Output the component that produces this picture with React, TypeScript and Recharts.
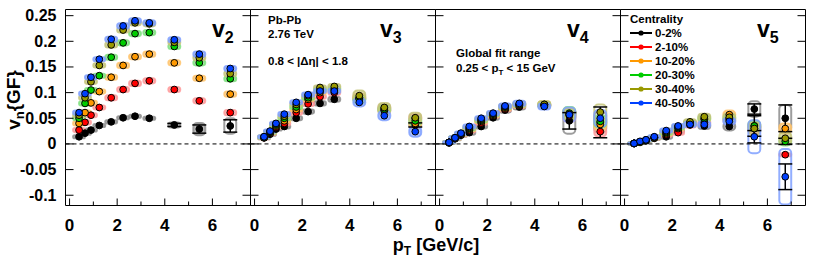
import React from "react";
import {
  ScatterChart,
  Scatter,
  XAxis,
  YAxis,
  ReferenceLine,
  ReferenceArea,
  ErrorBar,
} from "recharts";

// pT bin centres (GeV/c)
const ptBins = [0.4, 0.65, 0.9, 1.25, 1.75, 2.25, 2.75, 3.35, 4.4, 5.45, 6.75];

const centralities = ["0-2%", "2-10%", "10-20%", "20-30%", "30-40%", "40-50%"];
const colors = ["#000000", "#ff0000", "#ff9900", "#00cc00", "#999900", "#0040ff"];
const boxColors = ["#8c8c8c", "#ff9a9a", "#ffc36b", "#7fe07f", "#c4c47a", "#7fa0ff"];

const xTicks = [0, 1, 2, 3, 4, 5, 6, 7];
const yTicks = [-0.1, -0.05, 0, 0.05, 0.1, 0.15, 0.2, 0.25];

// v2{GF}, one row per centrality class
const v2Values = [
  [0.014, 0.021, 0.027, 0.036, 0.043, 0.051, 0.054, 0.05, 0.037, 0.029, 0.035],
  [0.027, 0.042, 0.056, 0.071, 0.09, 0.106, 0.118, 0.123, 0.106, 0.084, 0.061],
  [0.04, 0.061, 0.08, 0.102, 0.13, 0.153, 0.17, 0.175, 0.158, 0.128, 0.097],
  [0.05, 0.079, 0.105, 0.133, 0.169, 0.197, 0.215, 0.217, 0.19, 0.158, 0.127],
  [0.056, 0.09, 0.121, 0.153, 0.193, 0.222, 0.236, 0.234, 0.198, 0.168, 0.137],
  [0.061, 0.098, 0.13, 0.165, 0.204, 0.23, 0.24, 0.236, 0.203, 0.175, 0.147],
];
const v2Stat = [
  [0, 0, 0, 0, 0, 0, 0, 0, 0.003, 0.008, 0.012],
  [0, 0, 0, 0, 0, 0, 0, 0, 0, 0, 0],
  [0, 0, 0, 0, 0, 0, 0, 0, 0, 0, 0],
  [0, 0, 0, 0, 0, 0, 0, 0, 0, 0, 0],
  [0, 0, 0, 0, 0, 0, 0, 0, 0, 0, 0],
  [0, 0, 0, 0, 0, 0, 0, 0, 0, 0, 0],
];
const v2Sys = [
  [0.003, 0.003, 0.003, 0.003, 0.003, 0.003, 0.003, 0.003, 0.005, 0.012, 0.015],
  [0.004, 0.004, 0.004, 0.004, 0.005, 0.005, 0.005, 0.005, 0.005, 0.005, 0.005],
  [0.004, 0.004, 0.004, 0.004, 0.005, 0.005, 0.005, 0.005, 0.005, 0.005, 0.005],
  [0.004, 0.004, 0.004, 0.004, 0.005, 0.005, 0.005, 0.005, 0.005, 0.005, 0.005],
  [0.004, 0.004, 0.004, 0.004, 0.005, 0.005, 0.005, 0.005, 0.005, 0.005, 0.005],
  [0.004, 0.004, 0.004, 0.004, 0.005, 0.005, 0.005, 0.005, 0.005, 0.005, 0.005],
];

// v3{GF}
const v3Values = [
  [0.012, 0.019, 0.029, 0.034, 0.05, 0.063, 0.079, 0.087, 0.088, 0.066, 0.037],
  [0.012, 0.021, 0.033, 0.04, 0.061, 0.078, 0.092, 0.1, 0.09, 0.07, 0.05],
  [0.013, 0.022, 0.035, 0.045, 0.067, 0.087, 0.1, 0.105, 0.09, 0.065, 0.04],
  [0.013, 0.023, 0.037, 0.05, 0.072, 0.09, 0.106, 0.108, 0.087, 0.068, 0.045],
  [0.014, 0.024, 0.039, 0.054, 0.077, 0.094, 0.11, 0.112, 0.094, 0.071, 0.051],
  [0.014, 0.025, 0.04, 0.058, 0.081, 0.096, 0.103, 0.103, 0.081, 0.055, 0.024],
];
const v3Stat = [
  [0, 0, 0, 0, 0, 0, 0, 0, 0, 0, 0.004],
  [0, 0, 0, 0, 0, 0, 0, 0, 0, 0, 0],
  [0, 0, 0, 0, 0, 0, 0, 0, 0, 0, 0],
  [0, 0, 0, 0, 0, 0, 0, 0, 0, 0, 0],
  [0, 0, 0, 0, 0, 0, 0, 0, 0, 0, 0],
  [0, 0, 0, 0, 0, 0, 0, 0, 0, 0, 0],
];
const v3Sys = [
  [0.003, 0.003, 0.003, 0.004, 0.004, 0.004, 0.004, 0.005, 0.008, 0.008, 0.008],
  [0.003, 0.003, 0.003, 0.004, 0.004, 0.004, 0.004, 0.005, 0.008, 0.008, 0.009],
  [0.003, 0.003, 0.003, 0.004, 0.004, 0.004, 0.004, 0.005, 0.008, 0.008, 0.009],
  [0.003, 0.003, 0.003, 0.004, 0.004, 0.004, 0.004, 0.005, 0.008, 0.008, 0.009],
  [0.003, 0.003, 0.003, 0.004, 0.004, 0.004, 0.004, 0.005, 0.01, 0.009, 0.01],
  [0.003, 0.003, 0.003, 0.004, 0.004, 0.004, 0.004, 0.005, 0.008, 0.009, 0.01],
];

// v4{GF}
const v4Values = [
  [0.002, 0.01, 0.017, 0.022, 0.034, 0.051, 0.066, 0.072, 0.075, 0.045, 0.042],
  [0.003, 0.011, 0.018, 0.026, 0.041, 0.055, 0.068, 0.075, 0.076, 0.055, 0.024],
  [0.003, 0.011, 0.019, 0.028, 0.044, 0.056, 0.07, 0.076, 0.077, 0.058, 0.038],
  [0.003, 0.012, 0.02, 0.03, 0.046, 0.058, 0.072, 0.077, 0.076, 0.06, 0.044],
  [0.003, 0.012, 0.02, 0.032, 0.048, 0.059, 0.073, 0.078, 0.077, 0.058, 0.062],
  [0.003, 0.012, 0.021, 0.034, 0.05, 0.06, 0.074, 0.079, 0.073, 0.057, 0.05],
];
const v4Stat = [
  [0, 0, 0, 0, 0, 0, 0, 0, 0, 0.016, 0.03],
  [0, 0, 0, 0, 0, 0, 0, 0, 0, 0, 0],
  [0, 0, 0, 0, 0, 0, 0, 0, 0, 0, 0],
  [0, 0, 0, 0, 0, 0, 0, 0, 0, 0, 0],
  [0, 0, 0, 0, 0, 0, 0, 0, 0, 0, 0],
  [0, 0, 0, 0, 0, 0, 0, 0, 0, 0, 0],
];
const v4Sys = [
  [0.002, 0.003, 0.003, 0.004, 0.004, 0.004, 0.005, 0.005, 0.006, 0.025, 0.02],
  [0.002, 0.003, 0.003, 0.004, 0.004, 0.004, 0.005, 0.005, 0.006, 0.012, 0.01],
  [0.002, 0.003, 0.003, 0.004, 0.004, 0.004, 0.005, 0.005, 0.006, 0.012, 0.012],
  [0.002, 0.003, 0.003, 0.004, 0.004, 0.004, 0.005, 0.005, 0.006, 0.012, 0.012],
  [0.002, 0.003, 0.003, 0.004, 0.004, 0.004, 0.005, 0.005, 0.006, 0.012, 0.015],
  [0.002, 0.003, 0.003, 0.004, 0.004, 0.004, 0.005, 0.005, 0.006, 0.014, 0.016],
];

// v5{GF}
const v5Values = [
  [0.001, 0.003, 0.006, 0.011, 0.014, 0.025, 0.04, 0.035, 0.034, 0.068, 0.05],
  [0.001, 0.004, 0.007, 0.012, 0.018, 0.022, 0.037, 0.042, 0.047, 0.03, -0.021],
  [0.001, 0.004, 0.007, 0.012, 0.02, 0.03, 0.04, 0.048, 0.057, 0.035, 0.03],
  [0.001, 0.004, 0.007, 0.013, 0.022, 0.032, 0.041, 0.05, 0.05, 0.035, 0.005],
  [0.001, 0.004, 0.008, 0.013, 0.024, 0.034, 0.043, 0.053, 0.052, 0.03, 0.011],
  [0.001, 0.005, 0.008, 0.014, 0.026, 0.035, 0.038, 0.038, 0.044, 0.014, -0.064],
];
const v5Stat = [
  [0, 0, 0, 0, 0, 0, 0, 0, 0, 0.01, 0.026],
  [0, 0, 0, 0, 0, 0, 0, 0, 0, 0, 0],
  [0, 0, 0, 0, 0, 0, 0, 0, 0, 0, 0],
  [0, 0, 0, 0, 0, 0, 0, 0, 0, 0.02, 0.006],
  [0, 0, 0, 0, 0, 0, 0, 0, 0, 0, 0],
  [0, 0, 0, 0, 0, 0, 0, 0, 0, 0.012, 0.025],
];
const v5Sys = [
  [0.002, 0.002, 0.002, 0.003, 0.004, 0.004, 0.005, 0.006, 0.008, 0.015, 0.026],
  [0.002, 0.002, 0.002, 0.003, 0.004, 0.004, 0.005, 0.006, 0.008, 0.01, 0.003],
  [0.002, 0.002, 0.002, 0.003, 0.004, 0.004, 0.005, 0.006, 0.008, 0.01, 0.01],
  [0.002, 0.002, 0.002, 0.003, 0.004, 0.004, 0.005, 0.006, 0.008, 0.01, 0.008],
  [0.002, 0.002, 0.002, 0.003, 0.004, 0.004, 0.005, 0.006, 0.008, 0.012, 0.012],
  [0.002, 0.002, 0.002, 0.003, 0.004, 0.004, 0.005, 0.006, 0.006, 0.032, 0.054],
];

const W = 814;
const H = 260;
const PLOT_TOP = 9.5;
const PLOT_BOTTOM = 205.5;
const PANEL_W = 185;
const X_DOMAIN: [number, number] = [-0.17, 7.6];
const Y_DOMAIN: [number, number] = [-0.12, 0.262];
const BOX_HALF = 0.25; // half width of systematic boxes in pT
const FONT = "'Liberation Sans', Arial, Helvetica, sans-serif";

const panels = [
  { n: "2", left: 65.5, values: v2Values, stat: v2Stat, sys: v2Sys },
  { n: "3", left: 250.5, values: v3Values, stat: v3Stat, sys: v3Sys },
  { n: "4", left: 435.5, values: v4Values, stat: v4Stat, sys: v4Sys },
  { n: "5", left: 620.5, values: v5Values, stat: v5Stat, sys: v5Sys },
];

const BottomTick = (props: any) => {
  const { x, y, payload } = props;
  const major = payload.value % 2 === 0;
  return (
    <g>
      <line x1={x} x2={x} y1={y} y2={y - (major ? 7 : 4)} stroke="#000" />
      {major && (
        <text x={x} y={y + 25} textAnchor="middle" fontSize={17} fontWeight="bold" fontFamily={FONT} fill="#000">
          {payload.value}
        </text>
      )}
    </g>
  );
};

const makeLeftTick = (showLabel: boolean) => (props: any) => {
  const { x, y, payload } = props;
  return (
    <g>
      <line x1={x} x2={x + 8} y1={y} y2={y} stroke="#000" />
      {showLabel && (
        <text x={x - 9} y={y + 5.5} textAnchor="end" fontSize={16} fontWeight="bold" fontFamily={FONT} fill="#000">
          {payload.value}
        </text>
      )}
    </g>
  );
};

const RightTick = (props: any) => {
  const { x, y } = props;
  return <line x1={x} x2={x - 8} y1={y} y2={y} stroke="#000" />;
};

const boxShape = (color: string) => (p: any) => {
  const w = Math.abs(p.width);
  const h = Math.abs(p.height);
  const r = Math.min(4, h / 2, w / 2);
  return (
    <rect
      x={p.x}
      y={p.y}
      width={w}
      height={h}
      rx={r}
      fill={color}
      fillOpacity={h > 14 ? 0 : 0.6}
      stroke={color}
      strokeOpacity={0.85}
      strokeWidth={2}
    />
  );
};

const dotShape = (color: string) => (p: any) => (
  <circle cx={p.cx} cy={p.cy} r={3.4} fill={color} stroke="#000" strokeWidth={1} />
);

function Panel({ panel, first }: { panel: (typeof panels)[number]; first: boolean }) {
  const rightW = W - panel.left - PANEL_W;
  return (
    <div style={{ position: "absolute", left: 0, top: 0 }}>
      <ScatterChart width={W} height={H} margin={{ top: PLOT_TOP, right: 0, bottom: 0, left: 0 }}>
        <XAxis
          type="number"
          dataKey="pt"
          domain={X_DOMAIN}
          allowDataOverflow
          ticks={xTicks}
          interval={0}
          height={H - PLOT_BOTTOM}
          tickSize={0}
          tickMargin={0}
          tickLine={false}
          tick={BottomTick}
          stroke="#000"
        />
        <YAxis
          yAxisId="l"
          type="number"
          dataKey="v"
          domain={Y_DOMAIN}
          allowDataOverflow
          ticks={yTicks}
          interval={0}
          width={panel.left}
          tickSize={0}
          tickMargin={0}
          tickLine={false}
          tick={makeLeftTick(first)}
          stroke="#000"
        />
        <YAxis
          yAxisId="r"
          orientation="right"
          type="number"
          domain={Y_DOMAIN}
          allowDataOverflow
          ticks={yTicks}
          interval={0}
          width={rightW}
          tickSize={0}
          tickMargin={0}
          tickLine={false}
          tick={RightTick}
          stroke="#000"
        />
        <ReferenceLine yAxisId="l" y={Y_DOMAIN[1]} stroke="#000" />
        <ReferenceLine yAxisId="l" y={0} stroke="#000" strokeDasharray="4 3" />
        {panel.values.map((row, c) =>
          row.map((v, i) => (
            <ReferenceArea
              key={`box-${c}-${i}`}
              yAxisId="l"
              x1={ptBins[i] - BOX_HALF}
              x2={ptBins[i] + BOX_HALF}
              y1={v - panel.sys[c][i]}
              y2={v + panel.sys[c][i]}
              ifOverflow="hidden"
              shape={boxShape(boxColors[c])}
            />
          ))
        )}
        {panel.values.map((row, c) => {
          const data = ptBins.map((pt, i) => ({
            pt,
            v: row[i],
            stat: panel.stat[c][i] > 0 ? panel.stat[c][i] : null,
          }));
          return (
            <Scatter
              key={centralities[c]}
              name={centralities[c]}
              yAxisId="l"
              data={data}
              isAnimationActive={false}
              shape={dotShape(colors[c])}
            >
              <ErrorBar dataKey="stat" direction="y" width={7} stroke="#000" strokeWidth={1.5} />
            </Scatter>
          );
        })}
      </ScatterChart>
    </div>
  );
}

export default function App() {
  const bold = { fontFamily: FONT, fontWeight: "bold" as const, fill: "#000" };
  return (
    <div style={{ position: "absolute", left: 0, top: 0, width: W, height: H, background: "#fff" }}>
      {panels.map((p, idx) => (
        <Panel key={p.n} panel={p} first={idx === 0} />
      ))}
      <svg width={W} height={H} style={{ position: "absolute", left: 0, top: 0, pointerEvents: "none" }}>
        {/* harmonic labels */}
        {[
          { n: "2", x: 212 },
          { n: "3", x: 380 },
          { n: "4", x: 567 },
          { n: "5", x: 757 },
        ].map((l) => (
          <text key={l.n} x={l.x} y={37} fontSize={23} {...bold}>
            v<tspan dy={6} fontSize={16}>{l.n}</tspan>
          </text>
        ))}

        {/* v3 panel notes */}
        <text x={268} y={24} fontSize={11.5} {...bold}>Pb-Pb</text>
        <text x={268} y={38} fontSize={11.5} {...bold}>2.76 TeV</text>
        <text x={268} y={65} fontSize={11.5} {...bold}>0.8 &lt; |Δη| &lt; 1.8</text>

        {/* v4 panel notes */}
        <text x={456} y={57} fontSize={11.5} {...bold}>Global fit range</text>
        <text x={456} y={72} fontSize={11.5} {...bold}>
          0.25 &lt; p<tspan dy={3} fontSize={8}>T</tspan>
          <tspan dy={-3}> &lt; 15 GeV</tspan>
        </text>

        {/* legend */}
        <text x={630} y={23} fontSize={11.5} {...bold}>Centrality</text>
        {centralities.map((c, i) => {
          const y = 33 + i * 14;
          return (
            <g key={c}>
              <line x1={630} x2={652} y1={y} y2={y} stroke={colors[i]} strokeWidth={2} />
              <circle cx={641} cy={y} r={2.6} fill={colors[i]} />
              <text x={655} y={y + 4} fontSize={11.5} {...bold}>{c}</text>
            </g>
          );
        })}

        {/* axis titles */}
        <text transform="translate(20,100) rotate(-90)" textAnchor="middle" fontSize={19} {...bold}>
          v<tspan dy={4} fontSize={13}>n</tspan>
          <tspan dy={-4}>{"{GF}"}</tspan>
        </text>
        <text x={436} y={251} textAnchor="middle" fontSize={18} {...bold}>
          p<tspan dy={4} fontSize={12}>T</tspan>
          <tspan dy={-4}> [GeV/c]</tspan>
        </text>
      </svg>
    </div>
  );
}
